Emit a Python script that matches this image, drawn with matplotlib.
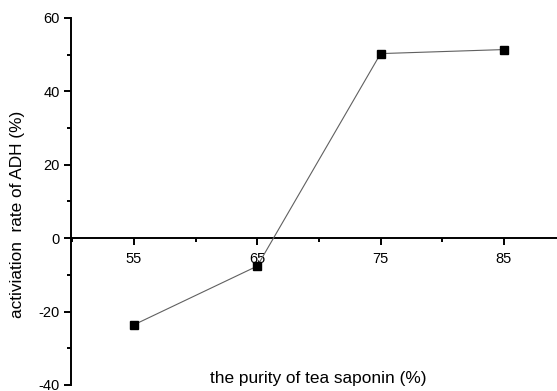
import matplotlib
matplotlib.use("Agg")
import matplotlib.pyplot as plt
from matplotlib.ticker import MultipleLocator

plt.rcParams['font.family'] = ['Liberation Sans', 'DejaVu Sans']
plt.rcParams['axes.unicode_minus'] = False

purity = [55, 65, 75, 85]
activation = [-23.6, -7.6, 50.3, 51.4]

fig = plt.figure(figsize=(5.57, 3.91), dpi=100)
ax = fig.add_axes([71 / 557, 6 / 391, 1 - 71 / 557, 367 / 391])

ax.plot(purity, activation, color='#606060', lw=0.8, marker='s', ms=5.5,
        mfc='black', mec='black', zorder=3)

ax.set_xlim(49.9, 89.3)
ax.set_ylim(-40, 60)

ax.spines['top'].set_visible(False)
ax.spines['right'].set_visible(False)
ax.spines['bottom'].set_position(('data', 0))
for s in ('left', 'bottom'):
    ax.spines[s].set_linewidth(1.4)

ax.xaxis.set_minor_locator(MultipleLocator(5))
ax.set_xticks(purity)
ax.yaxis.set_major_locator(MultipleLocator(20))
ax.yaxis.set_minor_locator(MultipleLocator(10))

ax.tick_params(which='major', length=5, width=1.4, labelsize=10.5, pad=3)
ax.tick_params(which='minor', length=3, width=1.4)
ax.tick_params(axis='x', pad=5)

fig.text(318 / 557, 1 - 378 / 391, 'the purity of tea saponin (%)',
         ha='center', va='center', fontsize=12.4)
fig.text(18 / 557, 1 - 214 / 391, 'activiation  rate of ADH (%)',
         ha='center', va='center', rotation=90, fontsize=12.4)

fig.savefig('out.png', dpi=100)
